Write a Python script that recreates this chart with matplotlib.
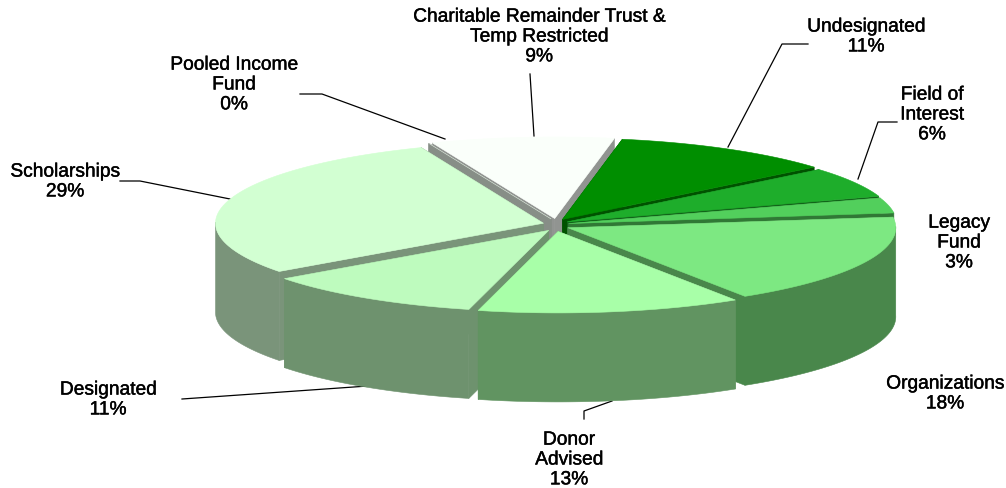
import numpy as np
import matplotlib.pyplot as plt
from matplotlib.patches import Polygon
import matplotlib.colors as mcolors
import matplotlib.patheffects as pe

# slices, clockwise starting with Undesignated
names = ['Undesignated\n11%', 'Field of\nInterest\n6%', 'Legacy\nFund\n3%', 'Organizations\n18%',
         'Donor\nAdvised\n13%', 'Designated\n11%', 'Scholarships\n29%', 'Pooled Income\nFund\n0%',
         'Charitable Remainder Trust &\nTemp Restricted\n9%']
values = [11, 6, 3, 18, 13, 11, 29, 0, 9]
colors = ['#008E00', '#1EAD2B', '#52CF5C', '#7DE882', '#A8FFA8', '#BEFBBE', '#D2FFD2', '#E8F5E8', '#FAFFFA']

# label centres in pixels
label_x = [866, 932, 959, 945, 569, 108, 65, 234, 539]
label_y = [38, 116, 244, 395, 461, 401, 183, 86, 38]

# leader lines in pixels
leaders = [([808, 782, 728], [45, 45, 148]),
           ([897, 878, 858], [123, 123, 180]),
           ([584, 584, 612], [420, 412, 402]),
           ([182, 368], [400, 387]),
           ([120, 140, 230], [182, 182, 200]),
           ([300, 322, 445], [95, 95, 140]),
           ([530, 534], [75, 137])]

cx, cy = 556, 226
rx, ry = 328, 81.5
depth = 89
explode = 13
start = 10.5
shade = 0.58

fig = plt.figure(figsize=(10.06, 4.89), dpi=100)
ax = fig.add_axes([0, 0, 1, 1])
ax.set_xlim(0, 1006)
ax.set_ylim(489, 0)
ax.axis('off')


def rim(t, ox, oy):
    return ox + rx*np.sin(t), oy - ry*np.cos(t)


def fill(xs, ys, col, z):
    ax.add_patch(Polygon(np.column_stack([xs, ys]), closed=True, facecolor=col,
                         edgecolor=col, linewidth=0.4, zorder=z))


edges = start + 3.6*np.concatenate([[0], np.cumsum(values)])
mids = (edges[:-1] + edges[1:])/2
order = np.argsort(-np.cos(np.radians(mids)))

for z, i in enumerate(order):
    a0, a1 = np.radians(edges[i]), np.radians(edges[i+1])
    m = np.radians(mids[i])
    ox = cx + explode*np.sin(m)
    oy = cy - explode*0.5*np.cos(m)
    col = np.array(mcolors.to_rgb(colors[i]))
    side = tuple(col*shade)
    z0 = z*3 + 2

    t = np.linspace(a0, a1, 80)
    xs, ys = rim(t, ox, oy)

    # the two cut faces
    for tt in (a0, a1):
        ex, ey = rim(tt, ox, oy)
        fill([ox, ex, ex, ox], [oy, ey, ey + depth, oy + depth], side, z0)

    # outer wall, only the part facing us
    front = np.cos(t) < 0.03
    if front.any():
        fx, fy = xs[front], ys[front]
        fill(np.r_[fx, fx[::-1]], np.r_[fy, fy[::-1] + depth], side, z0 + 1)

    # top
    fill(np.r_[ox, xs], np.r_[oy, ys], colors[i], z0 + 2)

for lx, ly in leaders:
    ax.plot(lx, ly, color='black', lw=0.9, zorder=1)

for i in range(len(names)):
    ax.text(label_x[i], label_y[i], names[i], ha='center', va='center', fontsize=13.8,
            family='Liberation Sans', color='black', linespacing=1.22, zorder=100,
            path_effects=[pe.withStroke(linewidth=0.3, foreground='black')])

fig.savefig('out.png', dpi=100)
